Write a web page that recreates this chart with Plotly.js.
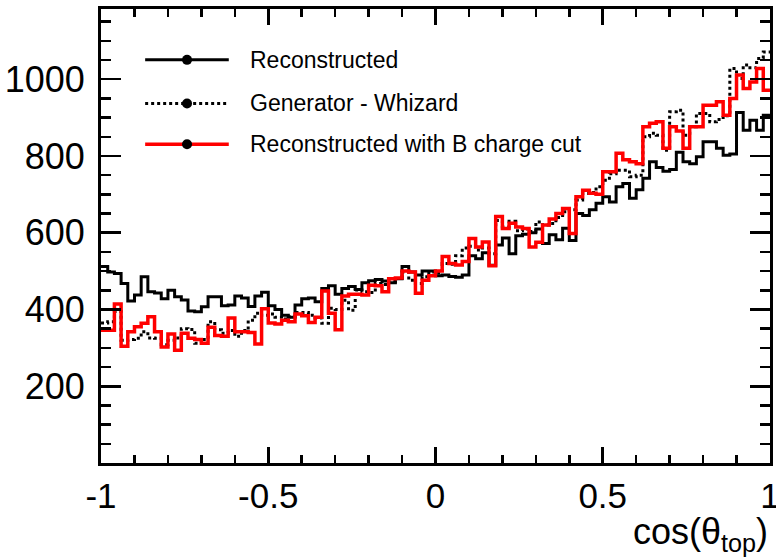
<!DOCTYPE html>
<html>
<head>
<meta charset="utf-8">
<script src="https://cdn.plot.ly/plotly-3.0.1.min.js"></script>
<style>
  html, body { margin: 0; padding: 0; background: #fff; }
  #chart { width: 776px; height: 559px; }
</style>
</head>
<body>
<div id="chart"></div>
<script>
// Histogram binning: 100 bins over cos(theta_top) in [-1, 1]
const xMin = -1;
const xMax = 1;
const nBins = 100;

// Reconstructed (black, solid)
const reconstructed = [
  512, 498, 494, 468, 422,
  438, 485, 446, 443, 428,
  450, 433, 425, 396, 394,
  407, 433, 433, 410, 412,
  435, 430, 408, 435, 445,
  410, 400, 385, 380, 412,
  428, 430, 420, 455, 462,
  440, 455, 460, 452, 470,
  475, 478, 474, 470, 480,
  512, 498, 490, 500, 500,
  488, 490, 486, 484, 490,
  540, 532, 548, 515, 568,
  586, 545, 592, 596, 600,
  610, 572, 595, 582, 612,
  580, 650, 645, 660, 677,
  694, 680, 720, 728, 690,
  712, 742, 785, 770, 760,
  765, 810, 785, 780, 798,
  837, 837, 820, 802, 805,
  913, 867, 893, 867, 906
];

// Generator - Whizard (black, dotted)
const generator = [
  365, 368, 395, 320, 322,
  325, 342, 326, 325, 308,
  320, 326, 350, 348, 312,
  322, 368, 347, 338, 345,
  330, 345, 372, 390, 385,
  388, 380, 375, 381, 392,
  392, 385, 378, 364, 403,
  400, 424, 398, 451, 446,
  444, 468, 465, 472, 481,
  498, 476, 468, 485, 498,
  495, 520, 518, 540, 560,
  565, 555, 560, 545, 632,
  615, 630, 605, 610, 603,
  628, 620, 624, 640, 655,
  660, 685, 702, 705, 720,
  737, 754, 763, 763, 746,
  750, 850, 859, 854, 815,
  915, 919, 854, 876, 911,
  911, 889, 895, 905, 1028,
  1002, 1037, 1030, 1054, 1071
];

// Reconstructed with B charge cut (red, solid)
const bChargeCut = [
  346, 346, 414, 304, 342,
  355, 364, 381, 342, 302,
  336, 294, 338, 325, 322,
  312, 354, 332, 330, 378,
  342, 342, 340, 310, 402,
  365, 362, 372, 368, 388,
  384, 366, 380, 448, 390,
  347, 435, 440, 440, 438,
  463, 462, 446, 480, 482,
  500, 498, 442, 476, 488,
  500, 538, 520, 516, 525,
  585, 563, 576, 514, 642,
  611, 625, 615, 611, 563,
  575, 620, 636, 650, 663,
  598, 694, 711, 703, 700,
  759, 759, 807, 790, 785,
  780, 876, 885, 889, 820,
  876, 865, 820, 876, 876,
  932, 932, 941, 906, 950,
  1011, 976, 993, 1028, 971
];

const seriesNames = ["Reconstructed", "Generator - Whizard", "Reconstructed with B charge cut"];
const xTickVals = [-1, -0.5, 0, 0.5, 1];
const xTickText = ["-1", "-0.5", "0", "0.5", "1"];
const yTickVals = [200, 400, 600, 800, 1000];
const yTickText = ["200", "400", "600", "800", "1000"];

// Bin edges (left edges + final right edge)
const binW = (xMax - xMin) / nBins;
const edges = [];
for (let i = 0; i <= nBins; i++) edges.push(+(xMin + i * binW).toFixed(4));
function stepY(vals) { return vals.concat([vals[vals.length - 1]]); }

const FONT = "Liberation Sans, Arial, Helvetica, sans-serif";

const traces = [
  { x: edges, y: stepY(reconstructed), name: seriesNames[0], mode: "lines",
    line: { shape: "hv", color: "#000000", width: 3 } },
  { x: edges, y: stepY(generator), name: seriesNames[1], mode: "lines",
    line: { shape: "hv", color: "#000000", width: 3, dash: "dot" } },
  { x: edges, y: stepY(bChargeCut), name: seriesNames[2], mode: "lines",
    line: { shape: "hv", color: "#ff0000", width: 3.5 } }
];

// Legend drawn manually (ROOT-style long lines with dot markers)
const legRows = [0.888, 0.792, 0.702];
const legStyles = [
  { color: "#000000", dash: "solid", width: 3 },
  { color: "#000000", dash: "dot", width: 3 },
  { color: "#ff0000", dash: "solid", width: 3.5 }
];
const shapes = [];
const annotations = [];
legRows.forEach((yy, i) => {
  shapes.push({ type: "line", xref: "paper", yref: "paper", x0: 0.066, x1: 0.191, y0: yy, y1: yy,
    line: { color: legStyles[i].color, width: legStyles[i].width, dash: legStyles[i].dash } });
  shapes.push({ type: "circle", xref: "paper", yref: "paper", xsizemode: "pixel", ysizemode: "pixel",
    xanchor: 0.1286, yanchor: yy, x0: -5, x1: 5, y0: -5, y1: 5,
    fillcolor: "#000000", line: { color: "#000000", width: 0 } });
  annotations.push({ xref: "paper", yref: "paper", x: 0.2197, y: yy, xanchor: "left", yanchor: "middle",
    text: seriesNames[i], showarrow: false, font: { family: FONT, size: 23, color: "#000000" } });
});
annotations.push({ xref: "paper", yref: "paper", x: 1.0, y: 0, xanchor: "right", yanchor: "top", yshift: -46,
  text: "cos(θ<sub>top</sub>)", showarrow: false,
  font: { family: FONT, size: 36, color: "#000000" } });

const layout = {
  width: 776, height: 559,
  margin: { l: 101, r: 6, t: 9, b: 96 },
  paper_bgcolor: "#ffffff", plot_bgcolor: "#ffffff",
  showlegend: false,
  font: { family: FONT, size: 36, color: "#000000" },
  xaxis: {
    range: [xMin - 0.0001, xMax + 0.0001], showgrid: false, zeroline: false,
    showline: true, linecolor: "#000000", linewidth: 3, mirror: "allticks",
    ticks: "inside", ticklen: 16, tickwidth: 2.5, tickcolor: "#000000",
    tickvals: xTickVals, ticktext: xTickText, ticklabelstandoff: 0,
    ticklabeloverflow: "allow",
    minor: { dtick: 0.1, tick0: 0, ticks: "inside", ticklen: 8, tickwidth: 2.5, tickcolor: "#000000", showgrid: false },
    tickfont: { size: 35 }
  },
  yaxis: {
    range: [0, 1183], showgrid: false, zeroline: false,
    showline: true, linecolor: "#000000", linewidth: 3, mirror: "allticks",
    ticks: "inside", ticklen: 20, tickwidth: 2.5, tickcolor: "#000000",
    tickvals: yTickVals, ticktext: yTickText, ticklabelstandoff: 6,
    ticklabeloverflow: "allow",
    minor: { dtick: 50, tick0: 0, ticks: "inside", ticklen: 10, tickwidth: 2.5, tickcolor: "#000000", showgrid: false },
    tickfont: { size: 36 }
  },
  shapes: shapes,
  annotations: annotations
};

Plotly.newPlot("chart", traces, layout, { displayModeBar: false, staticPlot: true });
</script>
</body>
</html>
